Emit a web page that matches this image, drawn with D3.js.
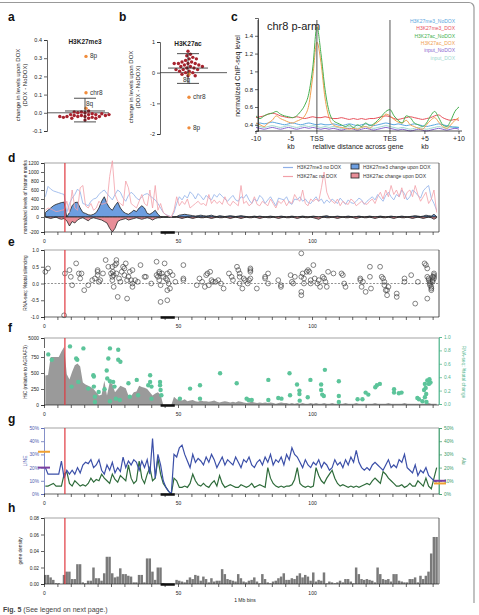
<!DOCTYPE html>
<html><head><meta charset="utf-8">
<script src="https://cdn.jsdelivr.net/npm/d3@7"></script>
<style>body{margin:0;background:#fff}svg{display:block;font-family:"Liberation Sans",Arial,sans-serif}</style>
</head><body><svg id="c" width="479" height="615"></svg>
<script>
// ---------- panel a / b ----------
const aRed=[-0.02,-0.01,-0.015,0.0,-0.005,-0.02,-0.03,-0.01,0.005,-0.025,-0.015,0.01,-0.02,-0.01,-0.005,-0.03,-0.02,0.0,-0.015,-0.025,-0.01,-0.02,0.005,-0.04,-0.03];
const aSpecial=[{n:"8p",v:0.31},{n:"chr8",v:0.11},{n:"8q",v:0.025}];
const aStats={mean:0.01,hi:0.08,lo:-0.05};
const bRed=[0.7,0.6,0.55,0.5,0.45,0.4,0.35,0.35,0.3,0.3,0.3,0.25,0.25,0.2,0.2,0.15,0.15,0.1,0.1,0.05,0.05,0.0,0.0,-0.05,-0.1,-0.1,0.45,0.3,0.2,0.1];
const bSpecial=[{n:"8q",v:-0.05},{n:"chr8",v:-0.8},{n:"8p",v:-1.8}];
const bStats={mean:0.15,hi:0.62,lo:-0.35};
// ---------- panel c ----------
const cSeriesNames=["H3K27me3_NoDOX","H3K27me3_DOX","H3K27ac_NoDOX","H3K27ac_DOX","input_NoDOX","input_DOX"];
const cColors=["#5aa6e0","#e8505a","#45b04e","#f0a050","#8a68d0","#9ed8cf"];
const cMe3No=[0.41,0.42,0.41,0.42,0.43,0.42,0.41,0.40,0.41,0.42,0.41,0.40,0.41,0.42,0.41,0.40,0.41,0.40,0.40,0.41,0.40,0.39,0.40,0.41,0.40,0.39,0.40,0.41,0.40,0.39,0.40,0.41,0.42,0.41,0.40,0.41,0.40,0.39,0.40,0.41,0.40,0.39,0.38,0.39,0.40,0.41,0.40,0.39,0.38,0.37,0.37];
const cMe3Dox=[0.48,0.49,0.50,0.52,0.53,0.52,0.50,0.49,0.48,0.48,0.49,0.48,0.47,0.48,0.49,0.48,0.48,0.49,0.48,0.47,0.47,0.48,0.47,0.46,0.47,0.46,0.47,0.46,0.47,0.47,0.48,0.49,0.50,0.49,0.47,0.46,0.47,0.48,0.49,0.48,0.47,0.46,0.47,0.48,0.50,0.51,0.48,0.46,0.45,0.46,0.45];
const cAcNo=[0.50,0.47,0.50,0.52,0.53,0.55,0.52,0.50,0.49,0.48,0.50,0.55,0.62,0.75,1.05,1.50,1.20,0.80,0.55,0.45,0.42,0.40,0.38,0.40,0.37,0.40,0.38,0.42,0.39,0.41,0.45,0.50,0.55,0.57,0.50,0.45,0.42,0.50,0.48,0.42,0.40,0.38,0.42,0.50,0.55,0.48,0.40,0.38,0.45,0.55,0.60];
const cAcDox=[0.42,0.40,0.38,0.42,0.45,0.50,0.47,0.45,0.43,0.42,0.44,0.46,0.50,0.62,0.95,1.33,1.10,0.70,0.48,0.40,0.38,0.37,0.36,0.35,0.36,0.35,0.37,0.38,0.36,0.40,0.43,0.47,0.52,0.50,0.46,0.43,0.42,0.45,0.40,0.38,0.36,0.35,0.40,0.45,0.48,0.43,0.38,0.36,0.40,0.45,0.48];
const cInNo=[0.37,0.36,0.35,0.36,0.37,0.36,0.35,0.36,0.37,0.36,0.35,0.36,0.37,0.36,0.37,0.36,0.35,0.36,0.35,0.36,0.35,0.34,0.35,0.36,0.35,0.34,0.35,0.36,0.35,0.34,0.35,0.36,0.37,0.36,0.35,0.34,0.35,0.34,0.33,0.34,0.35,0.34,0.33,0.34,0.35,0.36,0.35,0.34,0.35,0.36,0.35];
const cInDox=[0.39,0.38,0.37,0.38,0.39,0.38,0.37,0.38,0.39,0.38,0.37,0.38,0.39,0.38,0.39,0.38,0.37,0.38,0.37,0.38,0.37,0.36,0.37,0.38,0.37,0.36,0.37,0.38,0.37,0.36,0.37,0.38,0.39,0.38,0.37,0.36,0.37,0.36,0.35,0.36,0.37,0.36,0.35,0.36,0.37,0.38,0.37,0.36,0.37,0.38,0.37];
const cTicks=[{p:0,t:"-10"},{p:8.6,t:"-5",kb:1},{p:15,t:"TSS"},{p:33,t:"TES"},{p:41.6,t:"+5",kb:1},{p:50,t:"+10"}];
// ---------- panels d-h (1 Mb bins, 147 bins) ----------
const redBin=7.8, cenStart=43.5, cenEnd=48.8;
const dMe3No=[450,680,620,580,560,540,520,500,100,300, 420,500,620,560,300,280,250,350,400,420, 500,560,600,520,450,380,500,600,550,420, 350,480,550,500,420,380,450,500,520,480, 420,380,300,200,100,50,30,0,100,300, 450,380,480,420,560,500,400,520,460,380, 480,420,380,500,440,520,460,400,350,420, 480,380,350,450,420,500,380,300,400,350, 480,420,300,380,450,350,250,420,400,380, 450,320,280,400,380,450,350,400,320,300, 380,450,350,400,300,380,320,400,350,300, 420,350,280,380,320,300,350,420,380,280, 350,400,450,380,500,420,350,480,550,450, 380,500,450,600,520,380,450,600,550,480, 420,580,650,700,420,300,150];
const dAcNo=[150,200,180,150,120,130,150,160,350,100, 600,200,150,650,700,250,200,300,150,200, 350,280,300,320,900,1250,500,350,300,250, 800,650,300,250,200,350,500,300,250,600, 200,700,150,300,100,50,20,0,150,450, 250,350,280,400,200,250,300,350,280,300, 250,500,300,380,300,350,280,450,300,250, 350,300,250,700,300,350,250,300,450,280, 250,350,300,250,400,300,200,350,300,380, 250,350,300,500,400,350,600,300,250,400, 350,400,350,650,1000,550,400,350,300,400, 250,350,300,280,400,350,250,300,350,300, 280,350,400,300,450,550,400,600,450,700, 500,600,450,650,400,550,600,450,700,500, 350,450,550,300,400,600,100];
const dMe3Chg=[100,150,200,250,280,300,320,330,0,100, 250,320,330,200,100,80,50,40,60,100, 200,350,450,300,200,150,250,330,200,120, 80,60,100,150,120,200,250,200,80,60, 100,150,60,10,0,0,0,0,0,10, 40,50,60,50,40,30,20,30,40,30, 20,30,40,20,10,30,20,10,20,30, 20,10,20,30,20,10,0,10,20,10, 20,10,0,10,20,10,0,10,20,10, 0,10,20,10,0,10,20,10,0,10, 20,10,0,10,20,30,10,0,10,20, 10,0,10,20,10,0,10,20,10,0, 10,20,10,0,10,20,10,0,10,20, 10,0,10,20,10,0,10,20,30,20, 10,20,40,30,20,60,10];
const dAcChg=[0,-10,-20,-10,0,-20,-30,-20,-50,-120, -60,-80,-40,-20,-10,-30,-50,-20,-10,-20, -30,-40,-60,-80,-150,-200,-150,-60,-40,-30, -20,-40,-30,-20,-10,-20,-30,-20,-10,-20, -40,-20,-10,-10,0,0,0,0,0,0, -10,-20,-10,0,-10,-20,-10,0,-10,-10, 0,-10,-20,-10,0,-10,-10,0,-10,-20, -10,0,-10,-20,-10,0,-10,-10,0,-10, -20,-10,0,-10,-10,0,-10,-20,-10,0, -10,-10,0,-10,-20,-10,0,-10,-10,0, -10,-20,-30,-10,0,-10,-10,0,-10,-20, -10,0,-10,-10,0,-10,-20,-10,0,-10, -10,0,-10,-20,-10,0,-10,-10,0,-10, -20,-10,0,-10,-10,0,-10,-20,-10,0, -10,-20,-10,0,-10,-30,-10];
const ePts=[[0.5,0.35],[1.5,0.45],[7.5,-0.95],[7.8,0.3],[9.5,0.4],[10,0.2],[10.5,-0.05],[12,0.6],[13,0.3],[13.5,0.15],[14,0.3],[15,-0.2],[16.5,-0.05],[18,0.1],[19,0.15],[20,0.35],[20,0.25],[20,0.4],[20.5,0.05],[21,0.1],[22,0.3],[23,0.7],[24,0.5],[25,0.3],[25.5,0.5],[25.5,0.2],[25.5,0.1],[25.7,0.35],[26,0.25],[26,-0.1],[26.5,0.55],[27,0.7],[27,0.6],[27,0.3],[27.5,-0.4],[28,0.15],[28.5,0.05],[29,0.35],[29.5,0.5],[30,0.25],[30,0.45],[30.5,0.6],[31,-0.45],[31,0.1],[31.5,0.2],[32,0.35],[32.5,0.1],[33,0.0],[33,-0.1],[33,0.4],[34,0.1],[35,0.05],[36,0.55],[37.5,0.2],[38,0.2],[40,0.0],[42,0.65],[42,0.25],[42.5,0.2],[43,0.35],[43,0.3],[43,0.1],[43.5,-0.05],[43.5,-0.55],[44,0.3],[44.5,0.2],[45,0.6],[45.5,0.15],[46,0.3],[46,0.1],[46,-0.2],[46,-0.5],[46.5,0.0],[47,-0.15],[47,0.35],[48,0.25],[49,0.05],[52,0.55],[52,0.15],[52,0.1],[57,-0.05],[58,0.15],[59,0.05],[60,-0.1],[60.5,0.25],[61,0.3],[61.5,-0.05],[62,0.35],[62.5,0.1],[63,0.05],[64,0.05],[65,0.1],[66,0.0],[67,-0.15],[69,0.3],[70,0.2],[70.5,0.1],[72,0.5],[72.5,0.4],[73,0.3],[73,0.2],[73,0.0],[74,-0.15],[74.5,0.15],[75,0.1],[76,0.0],[76.5,0.1],[77,0.45],[77,0.4],[77,0.35],[77,0.15],[79.4,-0.15],[82.5,0.15],[82.5,0.2],[83.6,0.3],[83.6,0.0],[87.4,0.1],[88.4,-0.05],[88.4,-0.1],[92,0.25],[92.5,0.05],[93,0.0],[93.6,0.2],[96,0.9],[96,0.2],[96,-0.25],[96,-0.35],[96.5,0.3],[97,0.15],[97,0.0],[98,0.35],[98.5,0.4],[99,0.35],[99.5,0.1],[99.5,0.0],[100.5,0.55],[101,0.15],[102,0.0],[102.5,0.1],[103,-0.1],[104,0.2],[104.5,0.15],[105,0.05],[105.5,-0.1],[106,0.35],[108,0.3],[111,0.3],[111.5,0.25],[112,0.0],[112.5,-0.1],[118,0.15],[118,0.1],[118.5,-0.1],[119,0.05],[120,-0.25],[121.6,0.5],[121.6,0.2],[122,-0.15],[125.4,0.5],[126,0.2],[126.5,0.15],[127,0.05],[127,-0.05],[127.5,-0.2],[128,-0.35],[128,-0.2],[128.5,-0.1],[131.6,-0.3],[131.6,-0.4],[134.5,0.15],[134.5,0.05],[137,0.25],[138.5,-0.6],[139.5,0.05],[142,0.6],[142.5,0.55],[143,0.45],[143,0.2],[143,-0.45],[143.5,0.15],[143.5,0.1],[144,0.05],[144,0.0],[144,-0.05],[144.5,-0.1],[144.5,-0.15],[144.5,-0.2],[145,0.2],[145,0.05],[145,0.1],[145.5,0.15],[145.5,0.2],[145.5,0.25],[145.5,0.3]];
const fHiC=[460,470,760,760,760,760,2000,3000,480,400, 520,620,650,600,350,320,300,280,250,200, 150,160,380,150,350,330,200,250,300,280, 260,150,140,200,210,300,280,270,250,200, 150,180,200,160,0,0,0,0,130,90, 80,70,90,60,70,80,60,50,70,60, 60,50,60,70,50,40,50,60,50,40, 50,40,60,50,40,30,40,50,40,30, 40,30,40,30,40,30,20,30,40,30, 30,20,30,20,30,20,30,20,20,30, 20,30,20,20,30,20,20,30,20,20, 20,20,30,20,20,20,30,20,20,20, 20,20,20,30,20,20,20,20,30,20, 20,20,20,20,30,20,20,20,20,20, 20,20,20,30,20,20,20];
const fRna=[[1.6,0.74],[2.9,0.66],[9.7,0.86],[14.7,0.83],[12.4,0.66],[12,0.68],[10.3,0.26],[12.8,0.33],[16.5,0.23],[18.4,0.43],[18.6,0.41],[18.6,0.26],[19,0.11],[19,0.03],[20.4,0.18],[22.6,0.22],[23.4,0.5],[23.6,0.38],[24,0.68],[24.6,0.83],[24.6,0.34],[24.6,0.04],[25.8,0.33],[26.3,0.26],[26.8,0.08],[27.7,0.81],[27.7,0.66],[28.5,0.63],[28.3,0.06],[31.5,0.31],[32,0.11],[34.6,0.36],[35.1,0.13],[38.9,0.28],[39.6,0.43],[39.6,0.33],[40.1,0.26],[40.1,0.08],[43.3,0.33],[43.3,0.28],[43.5,0.21],[43.8,0.13],[50.7,0.08],[54.5,0.23],[58.2,0.28],[58.2,0.08],[65.7,0.46],[71.9,0.31],[75.6,0.08],[76.3,0.06],[77.5,0.06],[83.7,0.36],[83.7,0.06],[87.4,0.09],[88.6,0.08],[91.6,0.46],[91.8,0.13],[94.4,0.29],[95.3,0.2],[95.3,0.15],[95.4,0.05],[98.4,0.1],[99.4,0.36],[103.4,0.29],[103.4,0.21],[103.8,0.14],[104.4,0.12],[104.8,0.51],[110,0.34],[110,0.12],[110,0.03],[117,0.07],[118.8,0.07],[120,0.17],[121,0.14],[123.6,0.25],[124.2,0.28],[125.3,0.3],[130.6,0.22],[130.6,0.17],[132.4,0.16],[133.4,0.17],[139.3,0.09],[139.9,0.07],[141.2,0.04],[141.8,0.21],[142.1,0.3],[142.4,0.24],[142.6,0.15],[143,0.35],[143.6,0.3],[143.8,0.37],[144.2,0.32],[142.1,0.1],[142.7,0.03]];
const gLine=[20,15,15,15,15,15,25,12,18,15, 18,15,20,16,22,24,23,26,20,22, 26,18,15,22,18,24,16,20,17,28, 20,25,22,26,24,18,25,20,26,15, 42,12,30,22,10,5,2,0,30,28, 35,37,30,25,20,30,24,27,25,22, 28,24,30,26,20,24,28,22,26,24, 22,28,24,20,26,24,28,22,20,24, 26,22,28,24,30,22,26,24,28,22, 30,26,35,30,28,24,20,26,22,20, 24,22,26,20,24,22,18,20,26,22, 24,20,26,22,28,24,33,24,20,18, 20,18,22,24,22,20,18,22,26,20, 22,20,26,24,30,20,18,16,22,14, 18,16,20,14,12,10,9];
const gAlu=[6,6,7,8,6,6,6,15,17,8, 6,10,8,6,7,6,8,12,9,11, 10,15,12,10,8,15,11,9,14,12, 10,22,12,8,10,25,12,8,15,20, 10,12,27,15,8,5,2,0,12,10, 5,5,6,5,8,15,10,7,6,8, 6,5,8,10,6,14,8,5,6,7, 6,5,5,7,6,5,6,8,5,6, 7,6,5,20,12,8,6,5,6,5, 6,6,7,11,20,8,6,5,6,5, 6,20,14,10,8,12,15,18,12,8, 6,7,6,5,6,5,6,5,6,7, 8,7,10,12,10,8,17,15,12,10, 8,6,6,7,5,6,8,6,6,10, 8,6,12,6,4,12,20];
const gMarkLeft=[{v:32,c:"#f0a030"},{v:20,c:"#7a3fa0"}];
const gMarkRight=[{v:10,c:"#7a3fa0"},{v:8,c:"#f0a030"}];
const hGene=[0.011,0.011,0.008,0.005,0.001,0.001,0.000,0.011,0.015,0.015, 0.006,0.006,0.024,0.024,0.002,0.001,0.004,0.004,0.020,0.007, 0.007,0.004,0.013,0.033,0.033,0.013,0.008,0.009,0.019,0.012, 0.012,0.010,0.009,0.002,0.002,0.011,0.011,0.002,0.031,0.031, 0.015,0.005,0.020,0.020,0.001,0.000,0.000,0.000,0.000,0.005, 0.004,0.003,0.002,0.005,0.008,0.006,0.011,0.010,0.004,0.009, 0.006,0.002,0.007,0.003,0.004,0.004,0.018,0.012,0.006,0.005, 0.004,0.003,0.012,0.007,0.003,0.002,0.004,0.005,0.008,0.003, 0.001,0.012,0.006,0.002,0.001,0.003,0.004,0.007,0.009,0.013, 0.005,0.005,0.007,0.006,0.010,0.013,0.008,0.011,0.009,0.004, 0.014,0.003,0.005,0.004,0.014,0.001,0.003,0.002,0.001,0.002, 0.004,0.002,0.006,0.006,0.003,0.001,0.020,0.012,0.006,0.005, 0.006,0.005,0.004,0.002,0.020,0.012,0.006,0.005,0.006,0.003, 0.012,0.012,0.004,0.003,0.002,0.002,0.006,0.006,0.008,0.002, 0.010,0.006,0.010,0.015,0.037,0.057,0.057];

const svg=d3.select("#c");
const F="Liberation Sans, Arial, sans-serif";
const fx=(n)=>d=>d.toFixed(n);
svg.append("path").attr("d","M0,2.5H469a5,5 0 0 1 5,5V603").attr("fill","none").attr("stroke","#999").attr("stroke-width",1.2);
function label(t,x,y){svg.append("text").attr("x",x).attr("y",y).attr("font-size",12).attr("font-weight","bold").attr("fill","#111").text(t);}
[["a",8,21],["b",119,21],["c",231,21],["d",8,162],["e",8,246],["f",8,332],["g",8,423],["h",8,512]].forEach(d=>label(...d));
function styleAxis(g,size,col){g.selectAll("text").attr("font-size",size).attr("fill",col||"#222").attr("font-family",F);g.selectAll("line,path").attr("stroke",col||"#222").attr("stroke-width",0.7);}
function rotLabel(t,x,y,size,col,rot){svg.append("text").attr("transform",`translate(${x},${y}) rotate(${rot||-90})`).attr("text-anchor","middle").attr("font-size",size).attr("fill",col||"#222").text(t);}

function swarm(vals,ys,cx,r){const placed=[];return vals.map(v=>{const py=ys(v);let off=0;for(let k=0;k<400;k++){off=(k%2?1:-1)*Math.ceil(k/2)*0.6;const px=cx+off;if(placed.every(p=>(p[0]-px)**2+(p[1]-py)**2>=(2*r)**2)){placed.push([px,py]);return [px,py];}}placed.push([cx,py]);return [cx,py];});}

function dotPanel(red,special,stats,ys,axX,x1,cx,title,ticks,fmt,labX,labels){
  const ax=svg.append("g").attr("transform",`translate(${axX},0)`).call(d3.axisLeft(ys).tickValues(ticks).tickFormat(fmt).tickSize(3).tickPadding(2));
  styleAxis(ax,5.5);
  svg.append("line").attr("x1",axX).attr("x2",x1).attr("y1",ys(0)).attr("y2",ys(0)).attr("stroke","#333").attr("stroke-width",0.8);
  svg.append("text").attr("x",cx).attr("y",ys.range()[1]+4).attr("text-anchor","middle").attr("font-size",6.5).attr("font-weight","bold").attr("fill","#222").text(title);
  swarm(red,ys,cx,1.8).forEach(p=>svg.append("circle").attr("cx",p[0]).attr("cy",p[1]).attr("r",1.7).attr("fill","#a8232e"));
  special.forEach((s,i)=>{svg.append("circle").attr("cx",cx+1).attr("cy",ys(s.v)).attr("r",1.7).attr("fill","#f08c3c");
    svg.append("text").attr("x",cx+(labels[i].dx)).attr("y",ys(s.v)+labels[i].dy).attr("font-size",6.5).attr("fill","#333").text(s.n);});
  const g=svg.append("g").attr("stroke","#222").attr("stroke-width",0.8);
  g.append("line").attr("x1",cx-20).attr("x2",cx+20).attr("y1",ys(stats.mean)).attr("y2",ys(stats.mean));
  g.append("line").attr("x1",cx).attr("x2",cx).attr("y1",ys(stats.hi)).attr("y2",ys(stats.lo));
  [stats.hi,stats.lo].forEach(v=>g.append("line").attr("x1",cx-11).attr("x2",cx+11).attr("y1",ys(v)).attr("y2",ys(v)));
  rotLabel("change in levels upon DOX",labX,ys.range()[1]+45,6);
  rotLabel("(DOX - NoDOX)",labX+7,ys.range()[1]+45,6);
}
const ay=d3.scaleLinear().domain([-0.1,0.4]).range([131,40]);
dotPanel(aRed,aSpecial,aStats,ay,47,109,85,"H3K27me3",[-0.1,0,0.1,0.2,0.3,0.4],fx(1),20,[{dx:5,dy:2},{dx:5,dy:2},{dx:1,dy:-2}]);
const by=d3.scaleLinear().domain([-2,1]).range([134,42]);
dotPanel(bRed,bSpecial,bStats,by,160,227,188,"H3K27ac",[-2,-1,0,1],fx(0),133,[{dx:-5,dy:8},{dx:5,dy:2},{dx:5,dy:2}]);

// ---------- panel c ----------
const cx=d3.scaleLinear().domain([0,50]).range([256,459]);
const cy=d3.scaleLinear().domain([0.33,1.6]).range([131,18]);
const cData=[cMe3No,cMe3Dox,cAcNo,cAcDox,cInNo,cInDox];
[4,5,0,1,3,2].forEach(i=>{svg.append("path").datum(cData[i]).attr("fill","none").attr("stroke",cColors[i]).attr("stroke-width",1)
  .attr("d",d3.line().x((d,j)=>cx(j)).y(d=>cy(d)).curve(d3.curveMonotoneX));});
[15,33].forEach(p=>svg.append("line").attr("x1",cx(p)).attr("x2",cx(p)).attr("y1",20).attr("y2",131).attr("stroke","#555").attr("stroke-width",1));
const cya=svg.append("g").attr("transform","translate(258,0)").call(d3.axisLeft(cy).tickValues([0.4,0.6,0.8,1,1.2,1.4]).tickFormat(d=>d===1?"1":d.toFixed(1)).tickSize(3).tickPadding(2));
styleAxis(cya,6);
svg.append("line").attr("x1",258).attr("x2",258).attr("y1",20).attr("y2",131).attr("stroke","#222").attr("stroke-width",0.8);
svg.append("line").attr("x1",256).attr("x2",462).attr("y1",131).attr("y2",131).attr("stroke","#222").attr("stroke-width",0.8);
cTicks.forEach(t=>{svg.append("line").attr("x1",cx(t.p)).attr("x2",cx(t.p)).attr("y1",131).attr("y2",134).attr("stroke","#222").attr("stroke-width",0.7);
  svg.append("text").attr("x",cx(t.p)).attr("y",141).attr("text-anchor","middle").attr("font-size",7).attr("fill","#222").text(t.t);
  if(t.kb)svg.append("text").attr("x",cx(t.p)).attr("y",149).attr("text-anchor","middle").attr("font-size",7).attr("fill","#222").text("kb");});
svg.append("text").attr("x",358).attr("y",149).attr("text-anchor","middle").attr("font-size",7).attr("fill","#222").text("relative distance across gene");
rotLabel("normalized ChIP-seq level",240,76,7);
svg.append("text").attr("x",267).attr("y",30).attr("font-size",11).attr("fill","#222").text("chr8 p-arm");
cSeriesNames.forEach((n,i)=>svg.append("text").attr("x",455).attr("y",23+i*7.3).attr("text-anchor","end").attr("font-size",5).attr("fill",cColors[i]).text(n));

// ---------- shared x for d-h ----------
const xs=d3.scaleLinear().domain([0,147]).range([44,438]);
function frame(top,bot,rightCol){
  svg.append("line").attr("x1",xs(0)).attr("x2",439).attr("y1",top).attr("y2",top).attr("stroke","#999").attr("stroke-width",0.9);
  svg.append("line").attr("x1",439).attr("x2",439).attr("y1",top).attr("y2",bot).attr("stroke",rightCol||"#333").attr("stroke-width",0.8);
}
function xAxis(y){
  const g=svg.append("g").attr("transform",`translate(0,${y})`).call(d3.axisBottom(xs).tickValues(d3.range(0,150,5)).tickFormat(d=>d%50===0?String(d):"").tickSize(3).tickPadding(4));
  styleAxis(g,5);g.select(".domain").attr("d",`M${xs(0)},0H439`);
  svg.append("line").attr("x1",xs(cenStart)).attr("x2",xs(cenEnd)).attr("y1",y+0.5).attr("y2",y+0.5).attr("stroke","#111").attr("stroke-width",2.5);
}
function redLine(top,bot){svg.append("line").attr("x1",xs(redBin)).attr("x2",xs(redBin)).attr("y1",top).attr("y2",bot).attr("stroke","#e0383e").attr("stroke-width",1.2);}
const mid=i=>xs(i+0.5);

// ---------- panel d ----------
const dy=d3.scaleLinear().domain([-200,0,1200]).range([232,217,163]);
frame(163,232);
svg.append("path").datum(dMe3Chg).attr("fill","#6d9ee0").attr("stroke","#222").attr("stroke-width",0.8).attr("d",d3.area().x((d,i)=>mid(i)).y0(dy(0)).y1(d=>dy(d)));
svg.append("path").datum(dAcChg).attr("fill","#e88e98").attr("stroke","#222").attr("stroke-width",0.8).attr("d",d3.area().x((d,i)=>mid(i)).y0(dy(0)).y1(d=>dy(d)));
svg.append("path").datum(dMe3No).attr("fill","none").attr("stroke","#8fb0e8").attr("stroke-width",0.8).attr("d",d3.line().x((d,i)=>mid(i)).y(d=>dy(d)));
svg.append("path").datum(dAcNo).attr("fill","none").attr("stroke","#f2a0a8").attr("stroke-width",0.8).attr("d",d3.line().x((d,i)=>mid(i)).y(d=>dy(d)));
const dya=svg.append("g").attr("transform","translate(44,0)").call(d3.axisLeft(dy).tickValues([-200,0,200,400,600,800,1000,1200]).tickFormat(d=>String(d)).tickSize(3).tickPadding(2));
styleAxis(dya,4.8);
xAxis(232);redLine(163,232);
rotLabel("normalized levels of histone marks",27,197,4.8);
[["H3K27me3 no DOX","#8fb0e8",169],["H3K27ac no DOX","#f2a0a8",178]].forEach(l=>{svg.append("line").attr("x1",283).attr("x2",293).attr("y1",l[2]-1.5).attr("y2",l[2]-1.5).attr("stroke",l[1]).attr("stroke-width",1.2);
  svg.append("text").attr("x",297).attr("y",l[2]).attr("font-size",5).attr("fill","#333").text(l[0]);});
[["H3K27me3 change upon DOX","#6d9ee0",169],["H3K27ac change upon DOX","#e88e98",178]].forEach(l=>{svg.append("rect").attr("x",351).attr("y",l[2]-5).attr("width",8).attr("height",5).attr("fill",l[1]).attr("stroke","#222").attr("stroke-width",0.8);
  svg.append("text").attr("x",363).attr("y",l[2]).attr("font-size",5).attr("fill","#333").text(l[0]);});

// ---------- panel e ----------
const ey=d3.scaleLinear().domain([-1,1]).range([317,250]);
frame(250,317,"#222");
svg.append("line").attr("x1",xs(0)).attr("x2",439).attr("y1",ey(0)).attr("y2",ey(0)).attr("stroke","#777").attr("stroke-width",0.8).attr("stroke-dasharray","2,1.5");
svg.append("g").selectAll("circle").data(ePts).join("circle").attr("cx",d=>xs(d[0])).attr("cy",d=>ey(d[1])).attr("r",2.4).attr("fill","none").attr("stroke","#333").attr("stroke-width",0.6);
const eya=svg.append("g").attr("transform","translate(44,0)").call(d3.axisLeft(ey).tickValues([-1,-0.5,0,0.5,1]).tickFormat(fx(1)).tickSize(3).tickPadding(2));
styleAxis(eya,4.8);
xAxis(317);redLine(250,317);
rotLabel("RNA-seq: %total silencing",27,283,4.8);

// ---------- panel f ----------
const fy=d3.scaleLinear().domain([0,750,5000]).range([405,357,338]);
const fr=d3.scaleLinear().domain([0,1]).range([404,337]);
frame(338,405,"#4cb38a");
svg.append("path").datum(fHiC).attr("fill","#9a9a9a").attr("d",d3.area().x((d,i)=>mid(i)).y0(fy(0)).y1(d=>fy(d)));
svg.append("g").selectAll("circle").data(fRna).join("circle").attr("cx",d=>xs(d[0])).attr("cy",d=>fr(d[1])).attr("r",2.2).attr("fill","#5cc49a");
const fya=svg.append("g").attr("transform","translate(44,0)").call(d3.axisLeft(fy).tickValues([0,250,500,750,5000]).tickFormat(d=>String(d)).tickSize(3).tickPadding(2));
styleAxis(fya,4.8);
svg.append("rect").attr("x",41).attr("y",348).attr("width",6).attr("height",3).attr("fill","#fff");
const fra=svg.append("g").attr("transform","translate(439,0)").call(d3.axisRight(fr).tickValues([0,0.2,0.4,0.6,0.8,1]).tickFormat(fx(1)).tickSize(3).tickPadding(2));
styleAxis(fra,4.8,"#4cb38a");
xAxis(405);redLine(338,405);
rotLabel("HiC (relative to AGRAF3)",27,372,4.8);
rotLabel("RNA-seq: %total change",462,372,4.8,"#4cb38a",90);

// ---------- panel g ----------
const gy=d3.scaleLinear().domain([0,50]).range([494,428]);
frame(428,494,"#3a9a6a");
svg.append("path").datum(gAlu).attr("fill","none").attr("stroke","#2e6b3a").attr("stroke-width",1.2).attr("d",d3.line().x((d,i)=>mid(i)).y(d=>gy(d)));
svg.append("path").datum(gLine).attr("fill","none").attr("stroke","#3b4fa8").attr("stroke-width",1.2).attr("d",d3.line().x((d,i)=>mid(i)).y(d=>gy(d)));
const gya=svg.append("g").attr("transform","translate(44,0)").call(d3.axisLeft(gy).tickValues([0,10,20,30,40,50]).tickFormat(d=>d+"%").tickSize(3).tickPadding(2));
styleAxis(gya,4.8,"#5060b0");
const gra=svg.append("g").attr("transform","translate(439,0)").call(d3.axisRight(gy).tickValues([0,10,20,30,40,50]).tickFormat(d=>d+"%").tickSize(3).tickPadding(2));
styleAxis(gra,4.8,"#3a9a6a");
gMarkLeft.forEach(m=>svg.append("line").attr("x1",38).attr("x2",50).attr("y1",gy(m.v)).attr("y2",gy(m.v)).attr("stroke",m.c).attr("stroke-width",2));
gMarkRight.forEach(m=>svg.append("line").attr("x1",434).attr("x2",446).attr("y1",gy(m.v)).attr("y2",gy(m.v)).attr("stroke",m.c).attr("stroke-width",2));
xAxis(494);redLine(428,494);
rotLabel("LINE",27,461,5,"#5060b0");
rotLabel("Alu",462,461,5,"#3a9a6a",90);

// ---------- panel h ----------
const hy=d3.scaleLinear().domain([0,0.08]).range([584,518]);
frame(518,584);
svg.append("g").selectAll("rect").data(hGene).join("rect").attr("x",(d,i)=>xs(i)).attr("width",xs(1)-xs(0)-0.2).attr("y",d=>hy(d)).attr("height",d=>hy(0)-hy(d)).attr("fill","#7a7a7a");
const hya=svg.append("g").attr("transform","translate(44,0)").call(d3.axisLeft(hy).tickValues([0,0.02,0.04,0.06,0.08]).tickFormat(fx(2)).tickSize(3).tickPadding(2));
styleAxis(hya,4.8);
xAxis(584);redLine(518,584);
rotLabel("gene density",22,551,4.8);
svg.append("text").attr("x",xs(75)).attr("y",602).attr("text-anchor","middle").attr("font-size",5).attr("fill","#222").text("1 Mb bins");
const cap=svg.append("text").attr("x",3).attr("y",612).attr("font-size",7).attr("fill","#444");
cap.append("tspan").attr("font-weight","bold").text("Fig. 5");
cap.append("tspan").text(" (See legend on next page.)");
</script></body></html>
